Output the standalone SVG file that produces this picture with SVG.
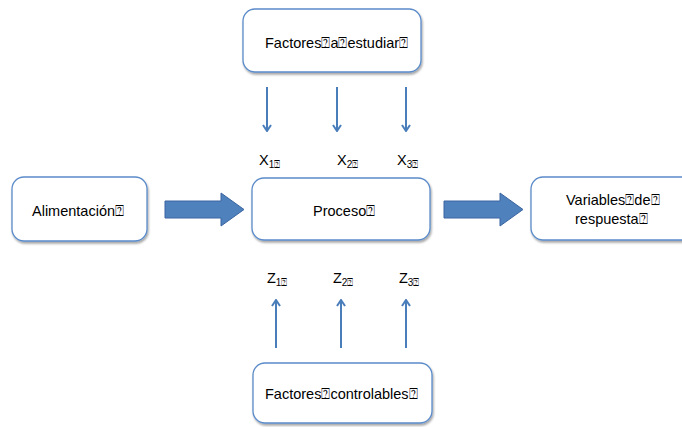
<svg xmlns="http://www.w3.org/2000/svg" width="682" height="427" viewBox="0 0 682 427">
  <defs>
    <filter id="shadow" x="-10%" y="-10%" width="125%" height="130%">
      <feDropShadow dx="1" dy="2" stdDeviation="1.2" flood-color="#000" flood-opacity="0.35"/>
    </filter>
    <marker id="head" viewBox="0 0 10 10" refX="9" refY="5" markerWidth="10" markerHeight="10" orient="auto" markerUnits="userSpaceOnUse">
      <path d="M3,1 L9,5 L3,9" fill="none" stroke="#4a7ebb" stroke-width="2"/>
    </marker>
    <style>
      .box { fill: #fff; stroke: #5b8bc9; stroke-width: 1.3; filter: url(#shadow); }
      .lbl { font-family: "Liberation Sans", "DejaVu Sans", sans-serif; font-size: 14.5px; fill: #000; }
      .sub { font-size: 10px; }
      .big { fill: #4f81bd; stroke: #3a64a0; stroke-width: 1; }
      .thin { stroke: #4a7ebb; stroke-width: 2; fill: none; marker-end: url(#head); }
    </style>
  </defs>

  <!-- nodes -->
  <g id="factores-estudiar">
    <rect class="box" x="243" y="9" width="178" height="63" rx="12"/>
    <text class="lbl" x="265" y="48">Factores⍰a⍰estudiar⍰</text>
  </g>
  <g id="alimentacion">
    <rect class="box" x="12" y="177" width="135" height="64" rx="12"/>
    <text class="lbl" x="32" y="216">Alimentación⍰</text>
  </g>
  <g id="proceso">
    <rect class="box" x="252" y="178" width="178" height="62" rx="12"/>
    <text class="lbl" x="313" y="216">Proceso⍰</text>
  </g>
  <g id="variables-respuesta">
    <rect class="box" x="531" y="177" width="170" height="63" rx="12"/>
    <text class="lbl" x="566" y="205">Variables⍰de⍰</text>
    <text class="lbl" x="575" y="224">respuesta⍰</text>
  </g>
  <g id="factores-controlables">
    <rect class="box" x="253" y="363" width="179" height="60" rx="12"/>
    <text class="lbl" x="265" y="399">Factores⍰controlables⍰</text>
  </g>

  <!-- variable labels -->
  <g id="x-labels">
    <text class="lbl" x="259" y="165">X<tspan class="sub" dy="3">1⍰</tspan></text>
    <text class="lbl" x="337" y="165">X<tspan class="sub" dy="3">2⍰</tspan></text>
    <text class="lbl" x="397" y="165">X<tspan class="sub" dy="3">3⍰</tspan></text>
  </g>
  <g id="z-labels">
    <text class="lbl" x="267" y="283">Z<tspan class="sub" dy="3">1⍰</tspan></text>
    <text class="lbl" x="333" y="283">Z<tspan class="sub" dy="3">2⍰</tspan></text>
    <text class="lbl" x="399" y="283">Z<tspan class="sub" dy="3">3⍰</tspan></text>
  </g>

  <!-- connectors -->
  <g id="connectors">
    <path class="big" d="M165,201 H221 V193 L244,209.5 L221,226 V218 H165 Z"/>
    <path class="big" d="M444,201 H500 V193 L523,209.5 L500,226 V218 H444 Z"/>
    <line class="thin" x1="267" y1="87" x2="267" y2="131"/>
    <line class="thin" x1="337" y1="87" x2="337" y2="131"/>
    <line class="thin" x1="406" y1="87" x2="406" y2="131"/>
    <line class="thin" x1="276" y1="348" x2="276" y2="300"/>
    <line class="thin" x1="341" y1="348" x2="341" y2="300"/>
    <line class="thin" x1="406" y1="348" x2="406" y2="300"/>
  </g>
</svg>
